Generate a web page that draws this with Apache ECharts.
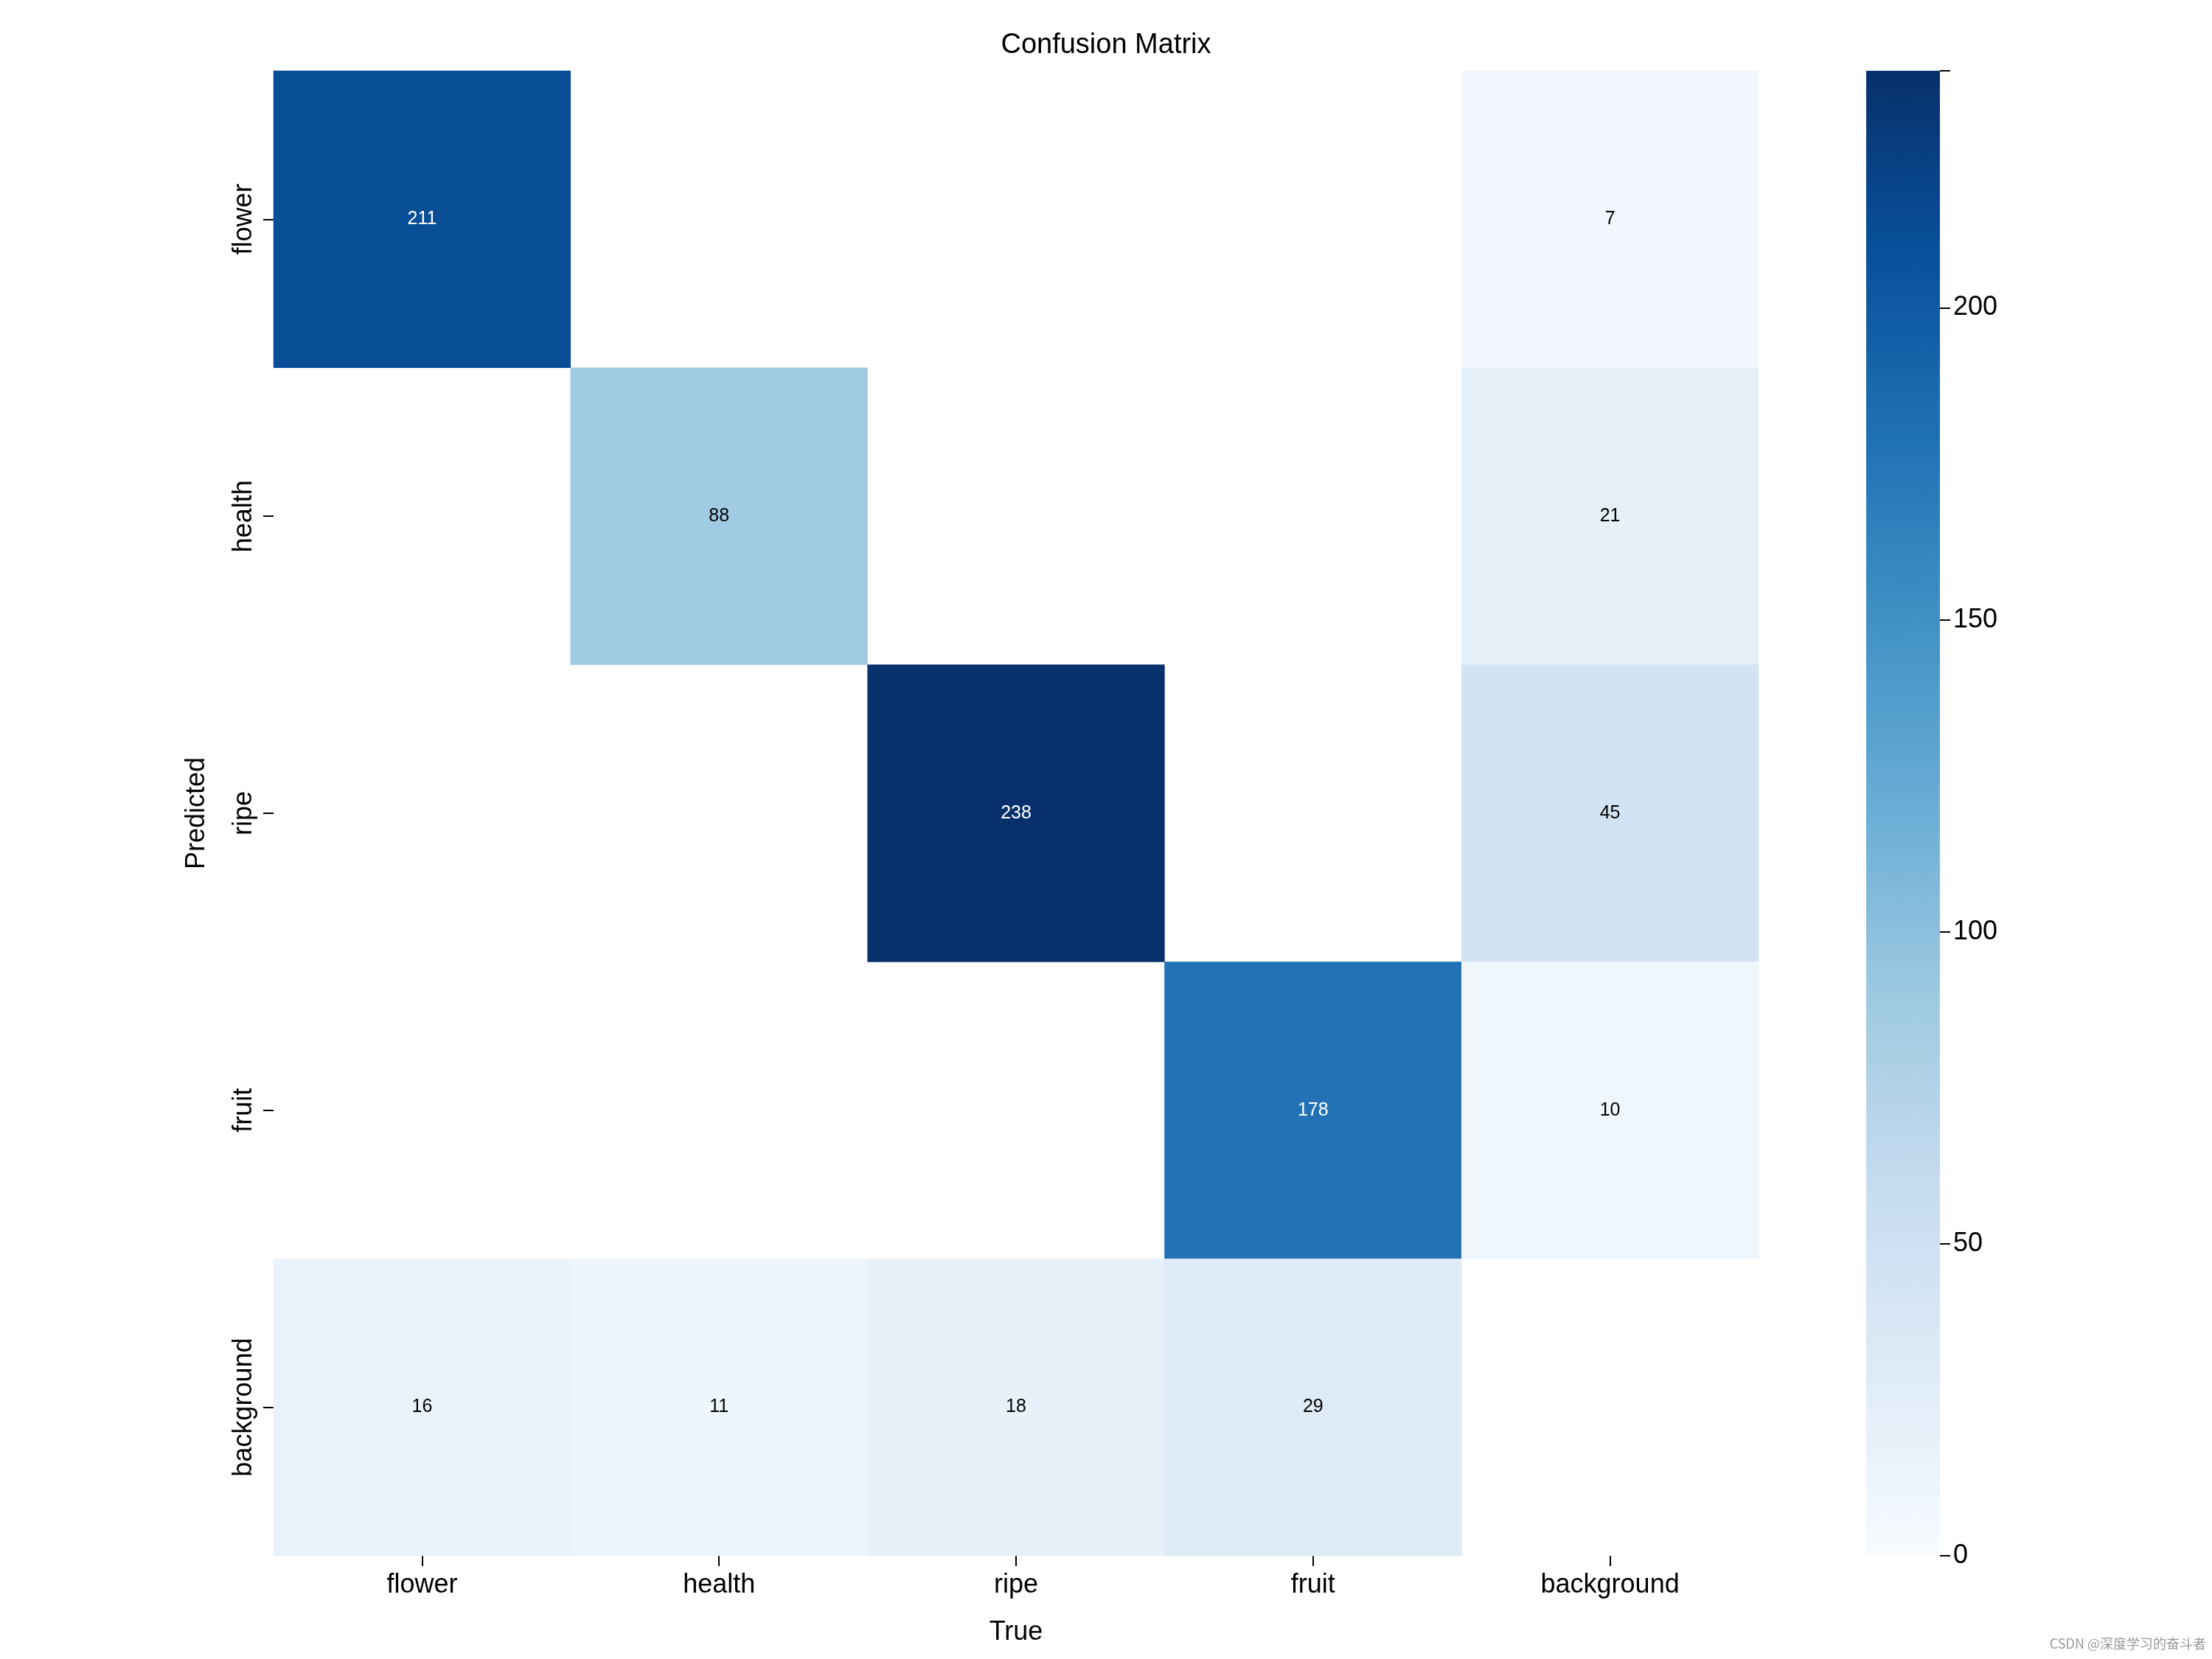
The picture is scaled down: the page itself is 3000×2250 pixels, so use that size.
<!DOCTYPE html>
<html><head><meta charset="utf-8">
<script src="https://cdn.jsdelivr.net/npm/echarts@6/dist/echarts.min.js"></script>
<style>html,body{margin:0;padding:0;background:#fff}#c{width:3000px;height:2250px}</style>
</head><body><div id="c"></div>
<script>
const trueLabels = ['flower','health','ripe','fruit','background'];
const predLabels = ['flower','health','ripe','fruit','background'];
const matrix = [
  [211,0,0,0,7],
  [0,88,0,0,21],
  [0,0,238,0,45],
  [0,0,0,178,10],
  [16,11,18,29,0]
];
const cbTicks = [0,50,100,150,200];
const vmax = 238;
const blues = ['#f7fbff','#deebf7','#c6dbef','#9ecae1','#6baed6','#4292c6','#2171b5','#08519c','#08306b'];

const data = [];
matrix.forEach((row,r)=>row.forEach((v,c)=>{ if(v>0) data.push([c,r,v]); }));

const font = 'Liberation Sans, Arial, sans-serif';
const chart = echarts.init(document.getElementById('c'));
chart.setOption({
  animation:false,
  backgroundColor:'#fff',
  title:{text:'Confusion Matrix',left:'center',top:38,textStyle:{fontFamily:font,fontSize:38,fontWeight:'normal',color:'#000'}},
  grid:[
    {left:371,width:2014,top:96,height:2014},
    {left:2531,width:100,top:96,height:2014}
  ],
  xAxis:[
    {type:'category',data:trueLabels,gridIndex:0,name:'True',nameLocation:'middle',nameGap:86,
     nameTextStyle:{fontFamily:font,fontSize:36,color:'#000'},
     axisLine:{show:false},axisTick:{show:true,length:14,lineStyle:{color:'#000',width:2},alignWithLabel:true},
     axisLabel:{fontFamily:font,fontSize:36,color:'#000',margin:22},splitLine:{show:false}},
    {type:'category',data:['c'],gridIndex:1,show:false}
  ],
  yAxis:[
    {type:'category',data:predLabels,gridIndex:0,inverse:true,name:'Predicted',nameLocation:'middle',nameGap:86,nameRotate:90,
     nameTextStyle:{fontFamily:font,fontSize:36,color:'#000'},
     axisLine:{show:false},axisTick:{show:true,length:14,lineStyle:{color:'#000',width:2},alignWithLabel:true},
     axisLabel:{fontFamily:font,fontSize:36,color:'#000',rotate:90,margin:22},splitLine:{show:false}},
    {type:'value',gridIndex:1,min:0,max:vmax,interval:50,position:'right',
     axisLine:{show:false},axisTick:{show:true,length:14,lineStyle:{color:'#000',width:2}},
     axisLabel:{fontFamily:font,fontSize:36,color:'#000',margin:18,
       formatter:v=>cbTicks.includes(v)?String(v):''},splitLine:{show:false}}
  ],
  visualMap:{show:false,min:0,max:vmax,seriesIndex:0,inRange:{color:blues}},
  series:[
    {type:'heatmap',xAxisIndex:0,yAxisIndex:0,data:data,
     label:{show:true,fontFamily:font,fontSize:25,
       formatter:p=>p.value[2],
       color:'#000',
       rich:{}},
     emphasis:{disabled:true}},
    {type:'custom',xAxisIndex:1,yAxisIndex:1,data:[[0,vmax]],
     renderItem:(params,api)=>{
       const p0 = api.coord([0,0]);
       const p1 = api.coord([0,vmax]);
       const w = api.size([1,0])[0];
       const stops = blues.map((c,i)=>({offset:i/(blues.length-1),color:c}));
       return {type:'rect',shape:{x:p0[0]-w/2,y:p1[1],width:w,height:p0[1]-p1[1]},
         style:{fill:new echarts.graphic.LinearGradient(0,1,0,0,stops)}};
     }}
  ],
  graphic:[{type:'text',right:8,bottom:12,style:{text:'CSDN @深度学习的奋斗者',fontFamily:'Noto Sans CJK SC',fontSize:18,fill:'#999'}}]
});
// white labels for dark cells
const opt = chart.getOption();
chart.setOption({series:[{data:data.map(d=>({value:d,label:{color:d[2]>120?'#fff':'#000'}}))}]});
</script></body></html>
